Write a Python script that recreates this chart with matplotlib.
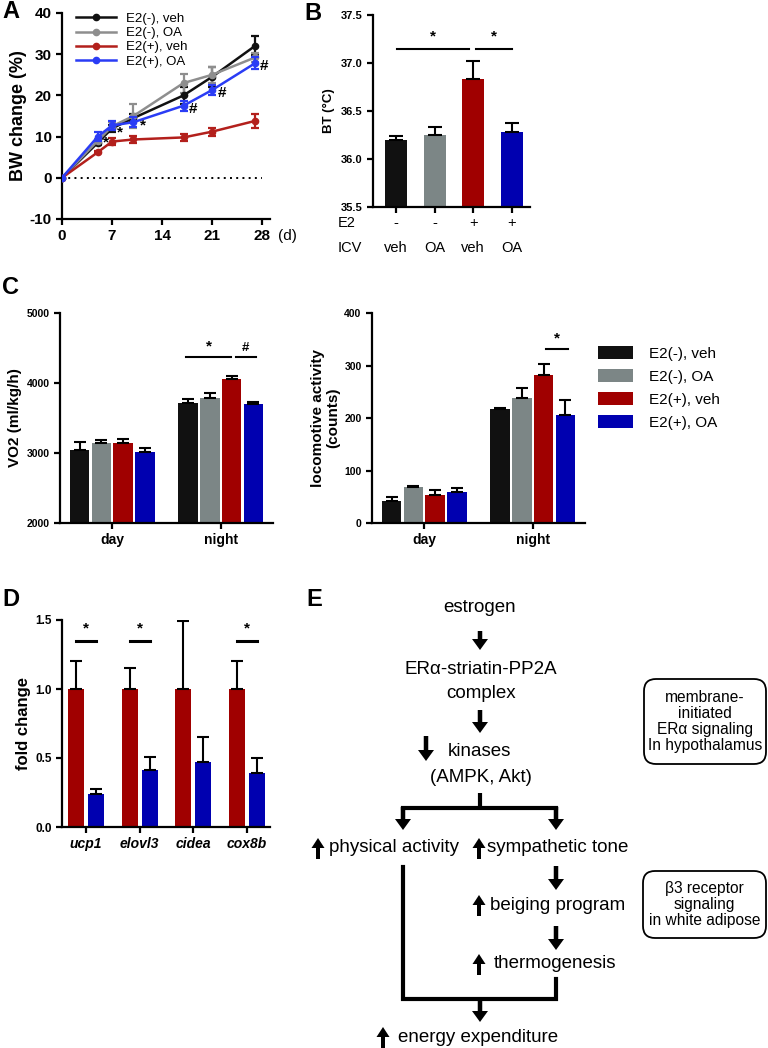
import matplotlib
matplotlib.use("Agg")
import matplotlib.pyplot as plt
from matplotlib.patches import Patch, FancyBboxPatch, FancyArrow
from matplotlib.lines import Line2D

plt.rcParams['font.family'] = ['Liberation Sans', 'DejaVu Sans']
plt.rcParams['axes.unicode_minus'] = False
plt.rcParams['axes.linewidth'] = 1.6
plt.rcParams['xtick.major.width'] = 1.6
plt.rcParams['ytick.major.width'] = 1.6
plt.rcParams['xtick.major.size'] = 4
plt.rcParams['ytick.major.size'] = 4

W, H = 768, 1048

# ---- data ----
groups = ["E2(-), veh", "E2(-), OA", "E2(+), veh", "E2(+), OA"]
bar_colors = ['#111111', '#7c8686', '#a00000', '#0000b0']
line_colors = ['#111111', '#8e8e8e', '#b3201c', '#2a3cf5']

# A: body weight change
days = [0, 5, 7, 10, 17, 21, 27]
bw_mean = [
    [0, 8.5, 12.0, 14.5, 20.0, 24.5, 32.0],
    [0, 9.0, 12.5, 15.0, 23.0, 25.0, 29.2],
    [0, 6.2, 8.8, 9.3, 9.8, 11.2, 13.8],
    [0, 10.0, 12.7, 13.5, 17.5, 21.3, 27.8],
]
bw_err = [
    [0, 0.5, 0.8, 1.0, 2.0, 2.5, 2.3],
    [0, 0.5, 1.0, 3.0, 2.3, 2.0, 1.0],
    [0, 0.3, 0.8, 0.8, 0.8, 1.0, 1.6],
    [0, 1.0, 1.0, 1.2, 1.2, 1.3, 1.5],
]
a_marks = [("*", 6.2, 8.5), ("*", 8.1, 11.1), ("*", 11.3, 12.6),
           ("#", 18.3, 16.7), ("#", 22.4, 20.5), ("#", 28.3, 27.2)]

# B: body temperature
bt_mean = [36.20, 36.25, 36.83, 36.28]
bt_err = [0.04, 0.08, 0.19, 0.10]
e2_labels = ["-", "-", "+", "+"]
icv_labels = ["veh", "OA", "veh", "OA"]

# C: VO2 and locomotive activity
periods = ["day", "night"]
vo2_mean = [[3040, 3150, 3150, 3020], [3720, 3780, 4060, 3700]]
vo2_err = [[115, 40, 45, 45], [45, 75, 45, 35]]
loc_mean = [[41, 68, 54, 60], [218, 238, 281, 206]]
loc_err = [[8, 3, 9, 7], [2, 20, 22, 29]]

# D: gene expression
genes = ["ucp1", "elovl3", "cidea", "cox8b"]
fold_veh = [1.0, 1.0, 1.0, 1.0]
fold_veh_err = [0.2, 0.15, 0.49, 0.2]
fold_oa = [0.24, 0.41, 0.47, 0.39]
fold_oa_err = [0.035, 0.10, 0.18, 0.11]
fold_sig = [True, True, False, True]

fig = plt.figure(figsize=(W / 100, H / 100), dpi=100)


def ax_px(l, t, r, b):
    return fig.add_axes([l / W, 1 - b / H, (r - l) / W, (b - t) / H])


def clean(ax):
    ax.spines['top'].set_visible(False)
    ax.spines['right'].set_visible(False)


# ---- A ----
axA = ax_px(62, 13, 270, 219)
clean(axA)
for k in range(4):
    axA.errorbar(days, bw_mean[k], yerr=bw_err[k], color=line_colors[k], lw=1.8,
                 marker='o', ms=4.5, capsize=3, elinewidth=1.6, capthick=1.6,
                 zorder=3 + (k == 3))
axA.plot([0, 28], [0, 0], ls=(0, (1, 2.2)), color='k', lw=1.4, zorder=1)
for s, x, y in a_marks:
    axA.text(x, y, s, fontsize=11, fontweight='bold', ha='center', va='center')
axA.set_xlim(0, 29.1)
axA.set_ylim(-10, 40)
axA.set_xticks([0, 7, 14, 21, 28])
axA.set_yticks([-10, 0, 10, 20, 30, 40])
axA.tick_params(labelsize=11)
for lab in axA.get_xticklabels() + axA.get_yticklabels():
    lab.set_fontweight('bold')
axA.set_ylabel("BW change (%)", fontsize=13, fontweight='bold', labelpad=2)
axA.text(1.04, -0.083, "(d)", transform=axA.transAxes, fontsize=11, ha='left', va='center')
a_handles = [Line2D([], [], color=c, lw=1.8, marker='o', ms=4.5) for c in line_colors]
axA.legend(a_handles, groups, loc='upper left', bbox_to_anchor=(0.03, 1.04), frameon=False,
           fontsize=9.5, handlelength=3.0, labelspacing=0.15, borderaxespad=0.2,
           handletextpad=0.8)

# ---- B ----
axB = ax_px(373, 15, 530, 207)
clean(axB)
xb = list(range(4))
axB.bar(xb, bt_mean, width=0.57, color=bar_colors, bottom=0)
axB.errorbar(xb, bt_mean, yerr=[[0] * 4, bt_err], fmt='none', ecolor='k',
             elinewidth=1.5, capsize=5, capthick=1.5)
axB.set_xlim(-0.595, 3.47)
axB.set_ylim(35.5, 37.5)
axB.set_yticks([35.5, 36.0, 36.5, 37.0, 37.5])
axB.set_yticklabels(["%.1f" % v for v in [35.5, 36.0, 36.5, 37.0, 37.5]],
                    fontsize=8, fontweight='bold')
axB.set_xticks(xb)
axB.set_xticklabels([])
axB.set_ylabel("BT (°C)", fontsize=9.5, fontweight='bold', labelpad=4)
axB.plot([0.03, 1.9], [37.15, 37.15], color='k', lw=1.5, clip_on=False)
axB.plot([2.07, 3.0], [37.15, 37.15], color='k', lw=1.5, clip_on=False)
axB.text(0.97, 37.2, "*", fontsize=11, fontweight='bold', ha='center', va='bottom')
axB.text(2.53, 37.2, "*", fontsize=11, fontweight='bold', ha='center', va='bottom')
for i in range(4):
    axB.text(xb[i], -0.085, e2_labels[i], transform=axB.get_xaxis_transform(),
             fontsize=10.5, ha='center', va='center')
    axB.text(xb[i], -0.215, icv_labels[i], transform=axB.get_xaxis_transform(),
             fontsize=10.5, ha='center', va='center')
axB.text(-1.52, -0.085, "E2", transform=axB.get_xaxis_transform(),
         fontsize=10.5, ha='left', va='center')
axB.text(-1.52, -0.215, "ICV", transform=axB.get_xaxis_transform(),
         fontsize=10.5, ha='left', va='center')


# ---- C ----
def grouped(ax, means, errs):
    for p in range(2):
        xs = [p * 5 + i for i in range(4)]
        ax.bar(xs, means[p], width=0.9, color=bar_colors)
        ax.errorbar(xs, means[p], yerr=[[0] * 4, errs[p]], fmt='none', ecolor='k',
                    elinewidth=1.5, capsize=4, capthick=1.5)
    ax.set_xlim(-0.9, 8.9)
    ax.set_xticks([1.5, 6.5])
    ax.set_xticklabels(periods, fontsize=10, fontweight='bold')


axC1 = ax_px(60, 313, 273, 523)
clean(axC1)
grouped(axC1, vo2_mean, vo2_err)
axC1.set_ylim(2000, 5000)
axC1.set_yticks([2000, 3000, 4000, 5000])
axC1.tick_params(axis='y', labelsize=7.5)
for lab in axC1.get_yticklabels():
    lab.set_fontweight('bold')
axC1.set_ylabel("VO2 (ml/kg/h)", fontsize=11, fontweight='bold', labelpad=3)
axC1.plot([4.9, 6.95], [4370, 4370], color='k', lw=1.5)
axC1.plot([7.2, 8.1], [4370, 4370], color='k', lw=1.5)
axC1.text(5.95, 4420, "*", fontsize=11, fontweight='bold', ha='center', va='bottom')
axC1.text(7.65, 4420, "#", fontsize=9.5, fontweight='bold', ha='center', va='bottom')

axC2 = ax_px(372, 313, 585, 523)
clean(axC2)
grouped(axC2, loc_mean, loc_err)
axC2.set_ylim(0, 400)
axC2.set_yticks([0, 100, 200, 300, 400])
axC2.tick_params(axis='y', labelsize=7.5)
for lab in axC2.get_yticklabels():
    lab.set_fontweight('bold')
axC2.set_ylabel("locomotive activity\n(counts)", fontsize=11, fontweight='bold',
                labelpad=3, linespacing=1.1)
axC2.plot([7.1, 8.1], [331, 331], color='k', lw=1.5)
axC2.text(7.6, 338, "*", fontsize=11, fontweight='bold', ha='center', va='bottom')

handles = [Patch(facecolor=c, edgecolor='none') for c in bar_colors]
fig.legend(handles, groups, loc='upper left', bbox_to_anchor=(592 / W, 1 - 340 / H),
           frameon=False, fontsize=11, handlelength=2.3, handleheight=0.9,
           labelspacing=0.55, handletextpad=1.0, borderaxespad=0)

# ---- D ----
axD = ax_px(62, 620, 270, 827)
clean(axD)
xg = list(range(4))
xr = [g - 0.186 for g in xg]
xbl = [g + 0.186 for g in xg]
axD.bar(xr, fold_veh, width=0.3, color=bar_colors[2])
axD.bar(xbl, fold_oa, width=0.3, color=bar_colors[3])
axD.errorbar(xr, fold_veh, yerr=[[0] * 4, fold_veh_err], fmt='none', ecolor='k',
             elinewidth=1.5, capsize=4, capthick=1.5)
axD.errorbar(xbl, fold_oa, yerr=[[0] * 4, fold_oa_err], fmt='none', ecolor='k',
             elinewidth=1.5, capsize=4, capthick=1.5)
for i in range(4):
    if fold_sig[i]:
        axD.plot([xr[i], xbl[i]], [1.35, 1.35], color='k', lw=2.2)
        axD.text(xg[i], 1.39, "*", fontsize=11, fontweight='bold', ha='center', va='bottom')
axD.set_xlim(-0.45, 3.43)
axD.set_ylim(0, 1.5)
axD.set_yticks([0, 0.5, 1.0, 1.5])
axD.set_yticklabels(["0.0", "0.5", "1.0", "1.5"], fontsize=8.5, fontweight='bold')
axD.set_xticks(xg)
axD.set_xticklabels(genes, fontsize=10, fontweight='bold', style='italic')
axD.set_ylabel("fold change", fontsize=12, fontweight='bold', labelpad=3)

# ---- E: schematic ----
axE = fig.add_axes([0, 0, 1, 1], facecolor='none')
axE.set_xlim(0, W)
axE.set_ylim(H, 0)
axE.axis('off')

fs = 13.5


def down(x, y0, y1):
    axE.add_patch(FancyArrow(x, y0, 0, y1 - y0, width=4.5, head_width=16,
                             head_length=11, length_includes_head=True,
                             color='k', lw=0))


def up(x, yc):
    axE.add_patch(FancyArrow(x, yc + 10, 0, -21, width=4, head_width=13,
                             head_length=10, length_includes_head=True,
                             color='k', lw=0))


axE.text(480, 607, "estrogen", fontsize=fs, ha='center', va='center')
down(480, 631, 650)
axE.text(481, 670, "ER\u03b1-striatin-PP2A", fontsize=fs, ha='center', va='center')
axE.text(481, 694, "complex", fontsize=fs, ha='center', va='center')
down(480, 710, 733)
down(426, 736, 761)
axE.text(448, 751, "kinases", fontsize=fs, ha='left', va='center')
axE.text(481, 777, "(AMPK, Akt)", fontsize=fs, ha='center', va='center')
axE.plot([480, 480], [793, 808], color='k', lw=3, solid_capstyle='butt')
axE.plot([403, 556], [808, 808], color='k', lw=3, solid_joinstyle='miter')
down(403, 807, 830)
down(556, 807, 830)
up(318, 849)
axE.text(329, 848, "physical activity", fontsize=fs, ha='left', va='center')
up(479, 849)
axE.text(487, 848, "sympathetic tone", fontsize=fs, ha='left', va='center')
down(556, 866, 890)
up(479, 906)
axE.text(490, 905, "beiging program", fontsize=fs, ha='left', va='center')
down(556, 926, 950)
up(479, 965)
axE.text(494, 964, "thermogenesis", fontsize=fs, ha='left', va='center')
axE.plot([403, 403, 556, 556], [867, 999, 999, 979], color='k', lw=3,
         solid_joinstyle='miter')
down(480, 999, 1022)
up(383, 1038)
axE.text(398, 1037, "energy expenditure", fontsize=fs, ha='left', va='center')

for (x0, y0, x1, y1, lines) in [
        (644, 679, 766, 764, ["membrane-", "initiated", "ER\u03b1 signaling", "In hypothalamus"]),
        (643, 871, 766, 938, ["\u03b23 receptor", "signaling", "in white adipose"])]:
    axE.add_patch(FancyBboxPatch((x0, y0), x1 - x0, y1 - y0,
                                 boxstyle="round,pad=0,rounding_size=12",
                                 fc='white', ec='k', lw=1.3))
    axE.text((x0 + x1) / 2, (y0 + y1) / 2, "\n".join(lines), fontsize=11.2,
             ha='center', va='center', linespacing=1.1)

# panel letters
for s, x, y in [("A", 2, 12), ("B", 304, 14), ("C", 2, 287), ("D", 2, 600), ("E", 306, 600)]:
    fig.text(x / W, 1 - y / H, s, fontsize=17, fontweight='bold', ha='left', va='center')

fig.savefig("out.png", dpi=100)
